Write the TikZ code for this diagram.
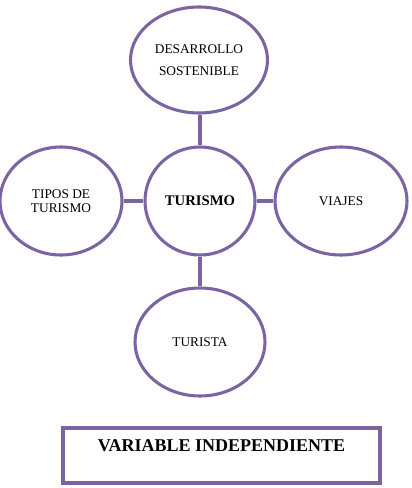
\documentclass[tikz,border=0pt]{standalone}
\usepackage{fontspec}
\setmainfont{Liberation Serif}
\usetikzlibrary{shapes.geometric,calc}
\definecolor{lav}{HTML}{7B64A2}
\tikzset{
  oval/.style={ellipse, draw=lav, line width=2.3pt, inner sep=0pt, align=center, text=black, font=\fontsize{10}{12}\selectfont},
  link/.style={draw=lav, line width=2.3pt},
  framebox/.style={rectangle, draw=lav, line width=2.3pt, inner sep=0pt}
}
\begin{document}
\begin{tikzpicture}[x=0.75pt,y=-0.75pt]
\useasboundingbox (0,0) rectangle (411,488);
\node[oval, minimum width=102.75pt, minimum height=79.5pt, font=\fontsize{10}{17}\selectfont] (des) at (199,60) {DESARROLLO\\SOSTENIBLE};
\node[oval, minimum width=82.5pt, minimum height=81pt, font=\bfseries\fontsize{11}{13}\selectfont] (tur) at (200,201) {TURISMO};
\node[oval, minimum width=91.5pt, minimum height=81pt, font=\fontsize{10}{10.5}\selectfont] (tip) at (61,201) {TIPOS DE\\TURISMO};
\node[oval, minimum width=99pt, minimum height=81pt] (via) at (341,201) {VIAJES};
\node[oval, minimum width=97.5pt, minimum height=81pt] (tta) at (200,342) {TURISTA};
\draw[link] (tur.north) -- (tur.north |- des.south);
\draw[link] (tip) -- (tur);
\draw[link] (tur) -- (via);
\draw[link] (tur) -- (tta);
\node[framebox, minimum width=237.75pt, minimum height=41.25pt] (box) at (221.5,455.5) {};
\node[font=\bfseries\fontsize{13.5}{15}\selectfont, inner sep=0pt] (boxtext) at ($(box.north)+(0,19)$) {VARIABLE INDEPENDIENTE};
\end{tikzpicture}
\end{document}
